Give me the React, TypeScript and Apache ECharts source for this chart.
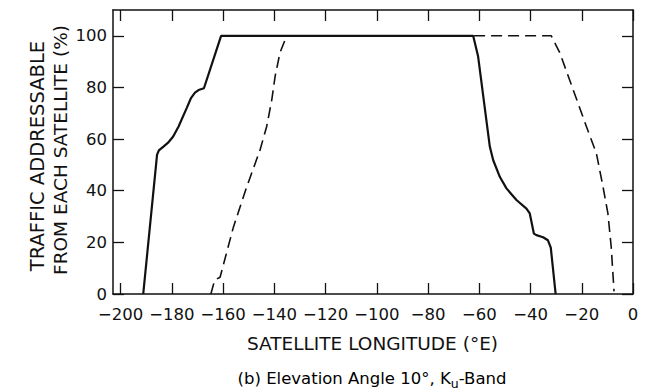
import React, { useEffect, useRef } from "react";
import * as echarts from "echarts";

const xTicks = [-200, -180, -160, -140, -120, -100, -80, -60, -40, -20, 0];
const yTicks = [0, 20, 40, 60, 80, 100];

const solidX = [-191.2, -185.8, -185.1, -183.3, -181.5, -179.5, -177.4, -174.2, -172.5, -171, -169.6, -167.5, -160.8, -62.4, -60.5, -55.9, -54.6, -52, -49.4, -45.5, -41.6, -40.3, -38.7, -37.7, -35.1, -33.2, -32.1, -30.2];
const solidY = [0, 54, 55.6, 57.1, 58.6, 61, 64.9, 72.1, 76, 78, 79, 79.7, 100, 100, 92.2, 57.1, 51.9, 45.4, 40.9, 36.4, 33.1, 31.2, 23.4, 22.8, 22, 20.8, 18, 0];

const dashX = [-164.8, -163.3, -161.2, -156, -150.8, -145.6, -143, -141, -139.7, -137.8, -135.2, -31.9, -28.6, -23.4, -18.2, -14.3, -11.7, -9.8, -8.5, -7.4];
const dashY = [0, 5.4, 6.5, 25.9, 41.5, 55.8, 64.9, 75.3, 84.4, 93.5, 100, 100, 93.5, 79.2, 64.9, 54.5, 41.5, 31.2, 18.2, 1];

const yTitle1 = "TRAFFIC ADDRESSABLE";
const yTitle2 = "FROM EACH SATELLITE (%)";
const xTitle = "SATELLITE LONGITUDE (°E)";

const FONT = "DejaVu Sans";
const INK = "#111";

export default function App() {
  const ref = useRef<HTMLDivElement>(null);
  useEffect(() => {
    if (!ref.current) return;
    const chart = echarts.init(ref.current, null, { renderer: "svg" });
    const fmt = (v: number) => (v < 0 ? "\u2212" + Math.abs(v) : String(v));
    const baseX = (pos: "bottom" | "top", labels: boolean) => ({
      type: "value",
      position: pos,
      min: -203,
      max: 0,
      axisLine: { show: true, onZero: false, lineStyle: { color: INK, width: 1.5 } },
      axisTick: { show: true, inside: true, length: 11, customValues: xTicks, lineStyle: { color: INK, width: 1.3 } },
      axisLabel: { show: labels, customValues: xTicks, formatter: fmt, fontFamily: FONT, fontSize: 16.5, color: INK, margin: 12 },
      splitLine: { show: false },
    });
    const baseY = (pos: "left" | "right", labels: boolean) => ({
      type: "value",
      position: pos,
      min: 0,
      max: 110,
      axisLine: { show: true, onZero: false, lineStyle: { color: INK, width: 1.5 } },
      axisTick: { show: true, inside: true, length: 11, customValues: yTicks, lineStyle: { color: INK, width: 1.3 } },
      axisLabel: { show: labels, customValues: yTicks, fontFamily: FONT, fontSize: 16.5, color: INK, margin: 6 },
      splitLine: { show: false },
    });
    chart.setOption({
      animation: false,
      backgroundColor: "#fff",
      grid: { left: 113, right: 21, top: 10, bottom: 97, containLabel: false },
      xAxis: [baseX("bottom", true), baseX("top", false)],
      yAxis: [baseY("left", true), baseY("right", false)],
      series: [
        {
          type: "line",
          data: solidX.map((x, i) => [x, solidY[i]]),
          showSymbol: false,
          lineStyle: { color: INK, width: 2.2 },
          z: 3,
        },
        {
          type: "line",
          data: dashX.map((x, i) => [x, dashY[i]]),
          showSymbol: false,
          lineStyle: { color: INK, width: 1.6, type: [11, 6] },
          z: 2,
        },
      ],
      graphic: [
        {
          type: "text",
          x: 37,
          y: 156,
          rotation: Math.PI / 2,
          style: { text: yTitle1, font: `19.5px "${FONT}"`, fill: INK, textAlign: "center", textVerticalAlign: "middle" },
        },
        {
          type: "text",
          x: 60,
          y: 150,
          rotation: Math.PI / 2,
          style: { text: yTitle2, font: `18.5px "${FONT}"`, fill: INK, textAlign: "center", textVerticalAlign: "middle" },
        },
        {
          type: "text",
          x: 372.5,
          y: 343,
          style: { text: xTitle, font: `18.5px "${FONT}"`, fill: INK, textAlign: "center", textVerticalAlign: "middle" },
        },
        {
          type: "text",
          x: 372,
          y: 380,
          style: {
            text: "{a|(b) Elevation Angle 10°, K}{s|u}{a|-Band}",
            textAlign: "center",
            textVerticalAlign: "middle",
            rich: {
              a: { fontFamily: FONT, fontSize: 16.5, color: INK, lineHeight: 20, verticalAlign: "top" },
              s: { fontFamily: FONT, fontSize: 12.5, color: INK, lineHeight: 20, verticalAlign: "bottom" },
            },
          },
        },
      ],
    });
    return () => chart.dispose();
  }, []);
  return <div ref={ref} style={{ position: "fixed", left: 0, top: 0, width: 654, height: 391 }} />;
}
